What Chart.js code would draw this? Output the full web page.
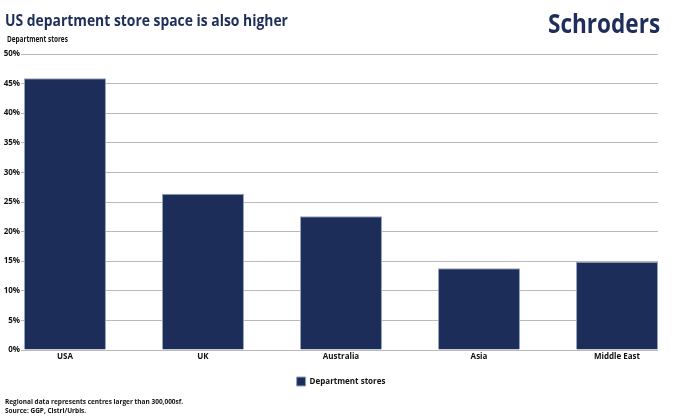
<!DOCTYPE html>
<html lang="en">
<head>
<meta charset="UTF-8">
<title>US department store space</title>
<script src="https://cdn.jsdelivr.net/npm/chart.js"></script>
<style>
  body { margin: 0; background: #fff; font-family: "Open Sans", "Noto Sans", sans-serif; }
  .wrap { position: relative; width: 700px; height: 420px; overflow: hidden; }
  .title { position: absolute; left: 5px; top: 9px; font-size: 16px; font-weight: 700; color: #1f2d5a; white-space: nowrap; transform-origin: left top; }
  .logo { position: absolute; left: 548px; top: 4px; font-size: 27px; font-weight: 700; color: #1f2d5a; white-space: nowrap; transform-origin: left top; }
  .sub { position: absolute; left: 7px; top: 33px; font-size: 8px; font-weight: 700; color: #111; white-space: nowrap; transform-origin: left top; }
  .foot { position: absolute; left: 5px; top: 397px; font-size: 7.5px; font-weight: 700; color: #111; line-height: 9px; white-space: nowrap; transform-origin: left top; }
  canvas { position: absolute; left: 0; top: 0; }
</style>
</head>
<body>
<div class="wrap">
  <canvas id="chart" width="700" height="420"></canvas>
  <div class="title" id="title">US department store space is also higher</div>
  <div class="logo" id="logo">Schroders</div>
  <div class="sub" id="sub">Department stores</div>
  <div class="foot" id="foot">Regional data represents centres larger than 300,000sf.<br>Source: GGP, Cistri/Urbis.</div>
</div>
<script>
// data
const categories = ['USA', 'UK', 'Australia', 'Asia', 'Middle East'];
const deptStores = [45.9, 26.4, 22.6, 13.8, 14.9];
const yTicks = [0, 5, 10, 15, 20, 25, 30, 35, 40, 45, 50];

const navy = '#1c2d5a';
const textFont = { family: '"Open Sans", "Noto Sans", sans-serif', size: 8, weight: 'bold' };

new Chart(document.getElementById('chart'), {
  type: 'bar',
  data: {
    datasets: [{
      label: 'Department stores',
      data: categories.map((c, i) => ({ x: i, y: deptStores[i] })),
      backgroundColor: navy,
      borderColor: '#95a2bd',
      borderWidth: 1,
      categoryPercentage: 1,
      barPercentage: 0.594
    }]
  },
  options: {
    responsive: false,
    animation: false,
    layout: { padding: { left: 0, right: 42, top: 54, bottom: 24 } },
    plugins: {
      tooltip: { enabled: false },
      legend: {
        position: 'bottom',
        fullSize: false,
        labels: { boxWidth: 9, boxHeight: 9, padding: 10, color: '#111', font: textFont }
      }
    },
    scales: {
      x: {
        type: 'linear',
        offset: false,
        min: -0.297,
        max: 4.297,
        grid: { display: false, drawTicks: false, offset: false },
        border: { display: false },
        afterFit: s => { s.height = 17; },
        ticks: {
          stepSize: 1,
          includeBounds: false,
          autoSkip: false,
          maxRotation: 0,
          padding: 2,
          color: '#111',
          font: textFont,
          callback: v => categories[v] ?? ''
        }
      },
      y: {
        min: yTicks[0],
        max: yTicks[yTicks.length - 1],
        afterFit: s => { s.width = 24; },
        afterBuildTicks: s => { s.ticks = yTicks.map(v => ({ value: v })); },
        grid: { color: '#b9b9b9', lineWidth: 1, tickLength: 3 },
        border: { display: false },
        ticks: { padding: 1, color: '#111', font: textFont, callback: v => v + '%' }
      }
    }
  }
});

// squeeze the heading texts to the widths they have in the reference
function fitWidth(id, w) {
  const el = document.getElementById(id);
  el.style.transform = 'scaleX(' + (w / el.offsetWidth) + ')';
}
fitWidth('title', 283);
fitWidth('logo', 112);
fitWidth('sub', 61);
fitWidth('foot', 178);
</script>
</body>
</html>
